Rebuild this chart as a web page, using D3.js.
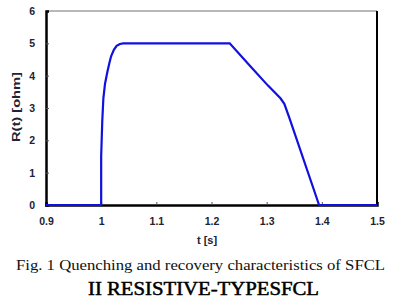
<!DOCTYPE html>
<html><head><meta charset="utf-8">
<script src="https://cdn.jsdelivr.net/npm/d3@7"></script>
<style>body{margin:0;background:#fff}</style>
</head><body>
<svg id="c" width="394" height="298"></svg>
<script>
const tData = [0.9, 1.0, 1.0, 1.002, 1.004, 1.007, 1.011, 1.015, 1.018, 1.023, 1.028, 1.034, 1.04, 1.1, 1.2, 1.233, 1.27, 1.302, 1.325, 1.332, 1.341, 1.395, 1.45, 1.5];
const rData = [0, 0, 1.5, 2.6, 3.3, 3.75, 4.1, 4.4, 4.6, 4.8, 4.92, 4.98, 5.0, 5.0, 5.0, 5.0, 4.3, 3.7, 3.3, 3.13, 2.7, 0, 0, 0];
const xTicks = [0.9, 1, 1.1, 1.2, 1.3, 1.4, 1.5];
const yTicks = [0, 1, 2, 3, 4, 5, 6];
const caption = "Fig. 1 Quenching and recovery characteristics of SFCL";
const heading = "II RESISTIVE-TYPESFCL";

const svg = d3.select("#c");
const x = d3.scaleLinear().domain([0.9, 1.5]).range([46, 377]);
const y = d3.scaleLinear().domain([0, 6]).range([205, 11]);

// frame
svg.append("line").attr("x1", 46).attr("x2", 377).attr("y1", 11).attr("y2", 11).attr("stroke", "#b8b8b8").attr("stroke-width", 2);
svg.append("line").attr("x1", 377).attr("x2", 377).attr("y1", 11).attr("y2", 205).attr("stroke", "#000").attr("stroke-width", 2);

const font = "'Liberation Sans', Arial, sans-serif";
const xa = svg.append("g").attr("transform", "translate(0,205)")
  .call(d3.axisBottom(x).tickValues(xTicks).tickFormat(d3.format("")).tickSize(-3).tickPadding(13));
const ya = svg.append("g").attr("transform", "translate(46,0)")
  .call(d3.axisLeft(y).tickValues(yTicks).tickFormat(d3.format("d")).tickSize(-3).tickPadding(11));
[xa, ya].forEach(a => {
  a.select(".domain").attr("stroke", "#000").attr("stroke-width", 2.5);
  a.selectAll(".tick line").attr("stroke", "#555").attr("stroke-width", 1);
  a.selectAll("text").attr("font-family", font).attr("font-weight", "bold").attr("font-size", 10.5).attr("fill", "#223");
});
xa.selectAll(".tick").filter(d => d === 0.9 || d === 1.5).select("line").remove();
ya.selectAll(".tick").filter(d => d === 0 || d === 6).select("line").remove();

// line
svg.append("path").datum(tData.map((t, i) => [t, rData[i]]))
  .attr("fill", "none").attr("stroke", "#1010e0").attr("stroke-width", 2.2)
  .attr("d", d3.line().x(d => x(d[0])).y(d => y(d[1])).curve(d3.curveLinear));

// axis titles
svg.append("text").attr("x", 207).attr("y", 244).attr("text-anchor", "middle")
  .attr("font-family", font).attr("font-weight", "bold").attr("font-size", 11).attr("fill", "#223").text("t [s]");
svg.append("text").attr("transform", "translate(20,107) rotate(-90)").attr("text-anchor", "middle")
  .attr("font-family", font).attr("font-weight", "bold").attr("font-size", 11.5).attr("fill", "#223")
  .attr("textLength", 70).attr("lengthAdjust", "spacingAndGlyphs").text("R(t) [ohm]");

// caption
svg.append("text").attr("x", 16).attr("y", 270)
  .attr("font-family", "'Liberation Serif', 'Times New Roman', serif").attr("font-size", 15).attr("fill", "#111")
  .attr("textLength", 369).attr("lengthAdjust", "spacingAndGlyphs").text(caption);
svg.append("text").attr("x", 88).attr("y", 295)
  .attr("font-family", "'Liberation Serif', 'Times New Roman', serif").attr("font-size", 18.5).attr("fill", "#000")
  .attr("stroke", "#000").attr("stroke-width", 0.5)
  .attr("textLength", 231).attr("lengthAdjust", "spacingAndGlyphs").text(heading);
</script>
</body></html>
